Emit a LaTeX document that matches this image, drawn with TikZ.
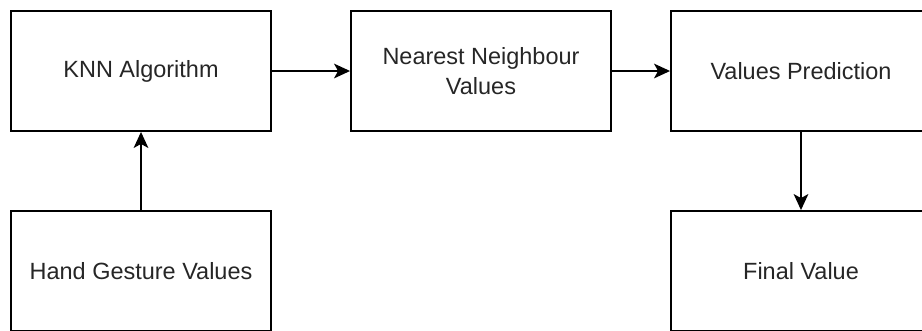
\documentclass[tikz,border=0pt]{standalone}
\usepackage{fontspec}
\setmainfont{Liberation Sans}
\usetikzlibrary{arrows.meta}
\begin{document}
\begin{tikzpicture}[x=0.75pt,y=-0.75pt,
        blk/.style={draw,line width=1.4pt,minimum width=195pt,minimum height=90pt,align=center,text=black!85,font=\fontsize{17.6}{22}\selectfont},
        flow/.style={line width=1.4pt,-{Stealth[length=12pt,width=11pt,inset=3pt]}}]
        \clip (0,0) rectangle (922,330);
        \node[blk] (knn) at (141,71) {KNN Algorithm};
        \node[blk] (near) at (481,71) {Nearest Neighbour\\Values};
        \node[blk] (pred) at (801,71) {Values Prediction};
        \node[blk] (hand) at (141,271) {Hand Gesture Values};
        \node[blk] (final) at (801,271) {Final Value};
        \draw[flow] (knn) -- (near);
        \draw[flow] (near) -- (pred);
        \draw[flow] (pred) -- (final);
        \draw[flow] (hand) -- (knn);
\end{tikzpicture}
\end{document}
